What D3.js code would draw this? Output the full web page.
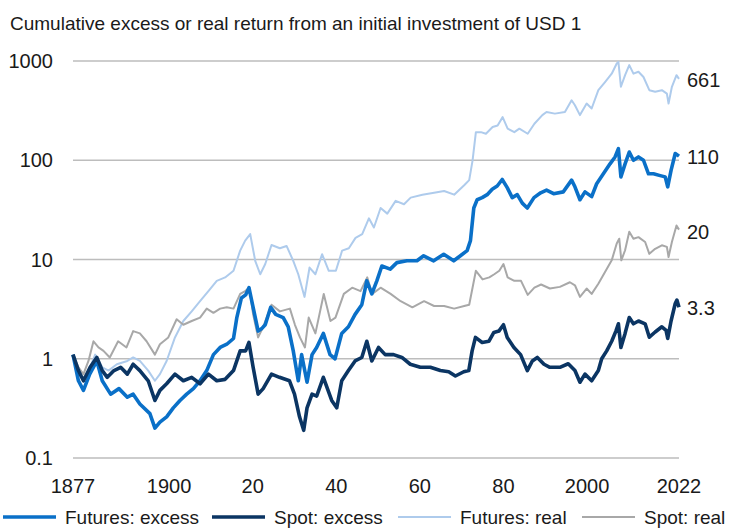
<!DOCTYPE html>
<html>
<head>
<meta charset="utf-8">
<script src="https://cdn.jsdelivr.net/npm/d3@7"></script>
<style>
  body { margin: 0; background: #fff; }
  text { font-family: "Liberation Sans", Arial, sans-serif; fill: #1a1a1a; }
</style>
</head>
<body>
<script>
const width = 731, height = 530;

const title = "Cumulative excess or real return from an initial investment of USD 1";
const yTicks = [0.1, 1, 10, 100, 1000];
const yTickLabels = ["0.1", "1", "10", "100", "1000"];
const xTicks = [1877, 1900, 1920, 1940, 1960, 1980, 2000, 2022];
const xTickLabels = ["1877", "1900", "20", "40", "60", "80", "2000", "2022"];
const seriesNames = ["Futures: excess", "Spot: excess", "Futures: real", "Spot: real"];
const endLabels = ["110", "3.3", "661", "20"];

// [year, value]
const futuresExcess = [
  [1877,1.1],[1878.3,0.6],[1879.5,0.48],[1881,0.7],[1882.7,0.95],[1884,0.6],[1886,0.44],[1888,0.5],
  [1890,0.41],[1891.4,0.44],[1893,0.35],[1895.4,0.28],[1896.6,0.2],[1897.8,0.23],[1899.4,0.26],
  [1901,0.32],[1902.6,0.38],[1904.2,0.44],[1905.8,0.5],[1907.4,0.6],[1909,0.76],[1910.6,1.1],
  [1912.2,1.3],[1913.8,1.4],[1915.4,1.6],[1916.2,2.6],[1917.3,4.1],[1918.3,4.4],[1919.1,5.2],
  [1920.1,3.3],[1921.3,1.9],[1922.1,2.0],[1923,2.2],[1924.3,3.3],[1925.5,2.8],[1927.3,2.6],
  [1928.5,2.1],[1929.7,1.2],[1930.9,0.6],[1931.7,1.1],[1933,0.58],[1934.2,1.1],[1935.3,1.3],
  [1936.9,1.8],[1938.5,1.1],[1939.7,1.0],[1941.3,1.8],[1942.9,2.1],[1944.5,2.8],[1946.1,3.5],
  [1947.3,6.1],[1948.5,4.5],[1949.7,6.1],[1950.9,8.6],[1952.9,8.0],[1954.5,9.3],[1956.9,9.7],
  [1959.3,9.7],[1960.9,10.9],[1963.3,9.7],[1965.7,11.3],[1968.1,9.7],[1969.7,10.9],[1971.3,12.3],
  [1972.1,15.5],[1972.9,33],[1973.7,40],[1974.9,42],[1976.1,45],[1977.3,51],[1978.5,55],
  [1979.7,64],[1980.9,53],[1982.1,42],[1983.3,45],[1984.5,37],[1985.7,33],[1987.3,42],[1988.9,47],
  [1990.3,50],[1992,46],[1994.3,48],[1996.3,63],[1997.1,54],[1998.3,40],[1999.5,48],[2001.1,43],
  [2002.3,58],[2003.9,73],[2005.5,92],[2006.7,108],[2007.5,131],[2008.1,68],[2009.1,92],
  [2010.1,121],[2011.1,100],[2012.3,108],[2013.5,100],[2014.7,73],[2015.9,73],[2017.5,70],
  [2018.7,68],[2019.3,54],[2020.1,79],[2021.1,117],[2022,110]
];
const spotExcess = [
  [1877,1.1],[1878.3,0.76],[1879.5,0.6],[1881.1,0.82],[1882.7,1.03],[1884,0.76],[1885.2,0.65],
  [1886.8,0.76],[1888.4,0.82],[1890,0.7],[1891.4,0.88],[1893,0.76],[1895,0.6],[1896.6,0.38],
  [1897.8,0.48],[1899.4,0.56],[1901.4,0.7],[1903.4,0.6],[1905.4,0.65],[1907.4,0.56],[1909.4,0.7],
  [1911.4,0.6],[1913.4,0.62],[1915.4,0.76],[1917,1.2],[1918.3,1.2],[1919.1,1.46],[1920.1,0.82],
  [1921.3,0.44],[1922.5,0.5],[1924.5,0.7],[1926.4,0.65],[1928.8,0.6],[1930,0.44],[1931.2,0.26],
  [1932.2,0.19],[1933,0.32],[1934.2,0.44],[1935.3,0.42],[1936.9,0.65],[1938.9,0.38],[1940.1,0.32],
  [1941.3,0.6],[1942.9,0.76],[1944.5,0.95],[1946.1,1.03],[1947.3,1.5],[1948.5,0.95],[1950.1,1.3],
  [1951.7,1.1],[1953.7,1.1],[1955.7,1.03],[1957.7,0.88],[1960.1,0.82],[1962.5,0.82],[1964.9,0.76],
  [1966.9,0.74],[1968.5,0.67],[1970.5,0.74],[1971.7,0.76],[1972.5,1.2],[1973.3,1.64],[1974.9,1.46],
  [1976.5,1.5],[1977.7,1.84],[1978.9,1.9],[1980,2.2],[1980.9,1.64],[1982.5,1.3],[1984.1,1.1],
  [1985.7,0.76],[1986.9,0.95],[1988.1,1.03],[1989.7,0.88],[1991.1,0.82],[1993.5,0.82],[1995.5,0.89],
  [1997.1,0.76],[1998.3,0.58],[1999.5,0.7],[2001.1,0.6],[2002.7,0.76],[2003.5,1.0],[2004.7,1.2],
  [2005.9,1.5],[2006.9,1.9],[2007.5,2.25],[2008.1,1.3],[2009.1,1.8],[2010.1,2.6],[2011.1,2.25],
  [2012.3,2.4],[2013.9,2.25],[2014.9,1.65],[2016.3,1.86],[2017.9,2.1],[2018.9,1.93],[2019.3,1.6],
  [2020.1,2.4],[2021.1,3.6],[2021.5,3.9],[2022,3.3]
];
const futuresReal = [
  [1877,1.07],[1878.3,0.7],[1879.5,0.6],[1881.1,0.82],[1882.3,1.1],[1884,0.82],[1885.5,0.76],
  [1887.5,0.88],[1890,0.95],[1891.4,1.03],[1893,0.95],[1895,0.76],[1896.6,0.6],[1897.8,0.7],
  [1899.4,0.95],[1901.4,1.64],[1903.4,2.4],[1905.4,3.0],[1907.4,3.8],[1909.4,4.8],[1911.4,6.1],
  [1913.4,6.6],[1915.4,7.7],[1917,12.3],[1918.2,15.5],[1919.4,18],[1920.6,9.7],[1921.8,7.1],
  [1923,9],[1924.5,14],[1926.5,13],[1928.1,13.7],[1929.7,9.7],[1930.9,7.1],[1932.4,4.2],
  [1933.6,8.3],[1935,7.1],[1936.6,11.3],[1938.2,7.7],[1939.9,7.7],[1941.4,12.3],[1943,13],
  [1944.6,16.5],[1946.2,18],[1947.8,26],[1949,21],[1950.6,33],[1952.2,29],[1954.2,39],[1956.2,36],
  [1957.8,42],[1960.6,45],[1963.4,47],[1965.8,49],[1968.2,45],[1970.6,56],[1971.8,63],[1972.6,99],
  [1973.4,192],[1974.6,192],[1975.8,185],[1977.4,216],[1978.6,224],[1979.8,272],[1981,208],
  [1982.6,192],[1983.8,208],[1985.8,185],[1987.4,233],[1989.3,285],[1990.3,306],[1992.3,295],
  [1994.7,306],[1996.3,402],[1997.1,358],[1998.3,285],[1999.9,373],[2001.1,332],[2002.7,508],
  [2004.3,613],[2005.9,745],[2007.1,944],[2007.5,980],[2008.1,550],[2009.1,720],[2010.1,910],
  [2011.1,745],[2012.3,780],[2013.5,690],[2014.9,508],[2016.3,490],[2017.9,508],[2019.1,470],
  [2019.5,373],[2020.3,550],[2021.4,720],[2022,661]
];
const spotReal = [
  [1877,1.1],[1878.3,0.82],[1879.5,0.7],[1880.7,0.95],[1881.9,1.5],[1883.1,1.3],[1884.3,1.2],
  [1885.8,1.03],[1887.8,1.5],[1889.8,1.3],[1891.4,1.9],[1893,1.8],[1894.6,1.5],[1896.6,1.1],
  [1897.8,1.4],[1899.8,1.64],[1901.8,2.5],[1903.4,2.2],[1905.4,2.4],[1907.4,2.6],[1909,3.2],
  [1910.6,2.9],[1912.2,3.2],[1913.8,3.3],[1915.4,3.2],[1917,4.5],[1918.2,4.8],[1919.2,5.2],
  [1920.1,2.8],[1921.3,1.64],[1922.5,2.1],[1924.5,3.5],[1926.5,3.0],[1928.9,3.2],[1930.1,2.2],
  [1931.3,1.64],[1932.5,1.3],[1933.4,2.6],[1935,1.8],[1937,4.5],[1938.6,2.4],[1939.8,2.6],
  [1941.8,4.5],[1943.8,5.2],[1945.8,4.8],[1947.4,6.6],[1948.6,4.5],[1950.6,5.2],[1953,4.5],
  [1955.4,3.8],[1958.2,3.3],[1961,3.8],[1963.4,3.4],[1965.8,3.4],[1968.2,3.2],[1970.6,3.4],
  [1971.8,3.5],[1972.6,5.2],[1973.4,7.7],[1975,6.3],[1976.6,6.6],[1977.8,7.1],[1979,7.7],[1980,9.0],
  [1981,6.6],[1982.6,6.1],[1984.2,6.1],[1985.8,4.4],[1987.4,5.2],[1989,5.6],[1991.1,5.1],
  [1993.5,5.3],[1995.9,5.9],[1997.1,5.5],[1998.3,4.2],[1999.9,5.1],[2001.1,4.5],[2002.7,5.7],
  [2004.3,7.5],[2005.9,9.8],[2007.1,14.5],[2007.7,16.2],[2008.2,9.8],[2009.1,12.4],[2010.1,19],
  [2011.1,16.2],[2012.3,16.8],[2013.9,15],[2014.9,11.4],[2016.3,12.8],[2017.9,13.9],[2019.1,13.4],
  [2019.5,10.6],[2020.3,15],[2021.4,22],[2022,20]
];

const seriesData = [futuresExcess, spotExcess, futuresReal, spotReal];
const colors = ["#0A70C8", "#0B3563", "#AECBEC", "#A8A8A8"];
const strokeW = [3.6, 3.6, 2, 2];
const drawOrder = [2, 3, 0, 1];

const svg = d3.select("body").append("svg")
    .attr("width", width)
    .attr("height", height);

const x = d3.scaleLinear().domain([1877, 2022]).range([73, 679]);
const y = d3.scaleLog().domain([0.1, 1000]).range([458, 61]);

svg.append("text")
    .attr("x", 10).attr("y", 30)
    .attr("font-size", 19)
    .text(title);

// gridlines + y labels
svg.append("g")
    .selectAll("line")
    .data(yTicks)
    .join("line")
    .attr("x1", 73).attr("x2", 679)
    .attr("y1", d => y(d)).attr("y2", d => y(d))
    .attr("stroke", "#bdbdbd")
    .attr("stroke-width", 1.5);

svg.append("g")
    .selectAll("text")
    .data(yTicks)
    .join("text")
    .attr("x", 53)
    .attr("y", d => y(d))
    .attr("dy", "0.36em")
    .attr("text-anchor", "end")
    .attr("font-size", 20)
    .text((d, i) => yTickLabels[i]);

svg.append("g")
    .selectAll("text")
    .data(xTicks)
    .join("text")
    .attr("x", d => x(d))
    .attr("y", 493)
    .attr("text-anchor", "middle")
    .attr("font-size", 20)
    .text((d, i) => xTickLabels[i]);

const line = d3.line()
    .x(d => x(d[0]))
    .y(d => y(d[1]));

svg.append("g")
    .selectAll("path")
    .data(drawOrder)
    .join("path")
    .attr("d", i => line(seriesData[i]))
    .attr("fill", "none")
    .attr("stroke", i => colors[i])
    .attr("stroke-width", i => strokeW[i])
    .attr("stroke-linejoin", "round");

// end labels
svg.append("g")
    .selectAll("text")
    .data(seriesData)
    .join("text")
    .attr("x", 687)
    .attr("y", (d, i) => [157, 308, 80, 232][i])
    .attr("dy", "0.36em")
    .attr("font-size", 20)
    .text((d, i) => endLabels[i]);

// legend
const legendX = [3, 212, 398, 582];
const lg = svg.append("g")
    .selectAll("g")
    .data(seriesNames)
    .join("g")
    .attr("transform", (d, i) => `translate(${legendX[i]},517)`);
lg.append("line")
    .attr("x1", 0).attr("x2", 53)
    .attr("stroke", (d, i) => colors[i])
    .attr("stroke-width", (d, i) => i < 2 ? 3.6 : 2);
lg.append("text")
    .attr("x", 62)
    .attr("dy", "0.36em")
    .attr("font-size", 19)
    .text(d => d);
</script>
</body>
</html>
